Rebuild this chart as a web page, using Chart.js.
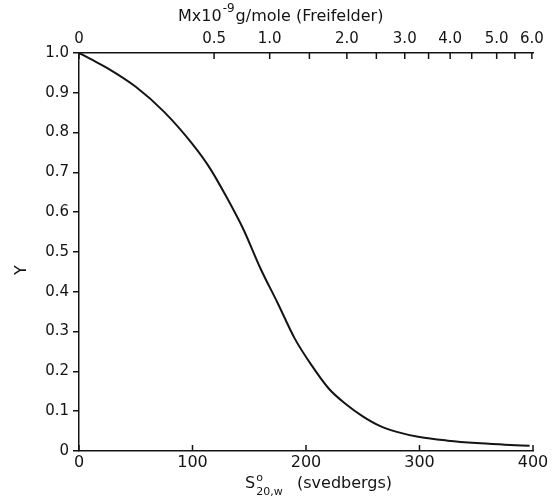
<!DOCTYPE html>
<html>
<head>
<meta charset="utf-8">
<script src="https://cdn.jsdelivr.net/npm/chart.js@4/dist/chart.umd.min.js"></script>
<style>
  html, body { margin: 0; padding: 0; background: #fff; }
</style>
</head>
<body>
<canvas id="chart" width="555" height="498"></canvas>
<script>
// sedimentation coefficient (svedbergs) and fraction Y
const sValues = [0, 10, 25, 50, 75, 100, 115, 130, 145, 160, 175, 190, 205, 220, 235, 250, 265, 280, 300, 325, 350, 375, 397];
const yValues = [1.0, 0.985, 0.962, 0.915, 0.852, 0.771, 0.712, 0.638, 0.556, 0.458, 0.372, 0.283, 0.215, 0.157, 0.118, 0.087, 0.063, 0.048, 0.035, 0.026, 0.020, 0.016, 0.013];

const bottomTicks = [0, 100, 200, 300, 400];
const yTicks = [0, 0.1, 0.2, 0.3, 0.4, 0.5, 0.6, 0.7, 0.8, 0.9, 1.0];
const yTickLabels = ['0', '0.1', '0.2', '0.3', '0.4', '0.5', '0.6', '0.7', '0.8', '0.9', '1.0'];

// top axis: molecular weight (x10^-9) placed at its S value
const topTickPos = [0, 119, 168, 203, 236, 262, 287, 308, 327, 346, 368, 384, 399];
const topTickLabels = ['0', '0.5', '1.0', '', '2.0', '', '3.0', '', '4.0', '', '5.0', '', '6.0'];

const FONT = 'DejaVu Sans';
const INK = '#141414';

const axisDecor = {
    id: 'axisDecor',
    afterDraw(chart) {
        const ctx = chart.ctx;
        const a = chart.chartArea;
        const xs = chart.scales.x;
        const xt = chart.scales.x2;
        ctx.save();
        ctx.strokeStyle = INK;
        ctx.lineWidth = 1.5;
        // inward tick marks on bottom and top axes
        xs.ticks.forEach(t => {
            const px = xs.getPixelForValue(t.value);
            ctx.beginPath(); ctx.moveTo(px, a.bottom); ctx.lineTo(px, a.bottom - 6); ctx.stroke();
        });
        xt.ticks.forEach(t => {
            const px = xt.getPixelForValue(t.value);
            ctx.beginPath(); ctx.moveTo(px, a.top); ctx.lineTo(px, a.top + 6); ctx.stroke();
        });

        ctx.fillStyle = INK;
        ctx.textBaseline = 'alphabetic';
        ctx.textAlign = 'left';

        // top title: Mx10^-9 g/mole (Freifelder)
        let x = 178;
        ctx.font = '16px ' + FONT;
        ctx.fillText('Mx10', x, 21);
        x += ctx.measureText('Mx10').width + 1;
        ctx.font = '12px ' + FONT;
        ctx.fillText('-9', x, 12);
        x += ctx.measureText('-9').width + 1;
        ctx.font = '16px ' + FONT;
        ctx.fillText('g/mole (Freifelder)', x, 21);

        // bottom title: S°20,w (svedbergs)
        x = 245;
        ctx.font = '16px ' + FONT;
        ctx.fillText('S', x, 488);
        x += ctx.measureText('S').width + 1;
        ctx.font = '11px ' + FONT;
        ctx.fillText('o', x, 481);
        ctx.fillText('20,w', x, 495);
        ctx.font = '16px ' + FONT;
        ctx.fillText('(svedbergs)', 297, 488);

        // left title Y, rotated
        ctx.save();
        ctx.translate(22, 270);
        ctx.rotate(-Math.PI / 2);
        ctx.textAlign = 'center';
        ctx.textBaseline = 'middle';
        ctx.font = '16px ' + FONT;
        ctx.fillText('Y', 0, 0);
        ctx.restore();

        ctx.restore();
    }
};

new Chart(document.getElementById('chart').getContext('2d'), {
    type: 'line',
    data: {
        datasets: [{
            data: sValues.map((s, i) => ({ x: s, y: yValues[i] })),
            borderColor: INK,
            borderWidth: 2,
            pointRadius: 0,
            fill: false,
            cubicInterpolationMode: 'monotone'
        }]
    },
    options: {
        responsive: false,
        animation: false,
        devicePixelRatio: 1,
        layout: { padding: { left: 0, right: 22, top: 0, bottom: 0 } },
        plugins: { legend: { display: false }, tooltip: { enabled: false } },
        scales: {
            x: {
                type: 'linear', position: 'bottom', min: 0, max: 400,
                afterBuildTicks: s => { s.ticks = bottomTicks.map(v => ({ value: v })); },
                ticks: { color: INK, font: { family: FONT, size: 16 }, padding: 2, maxRotation: 0, autoSkip: false },
                grid: { display: false, drawTicks: false, tickLength: 0 },
                border: { display: true, color: INK, width: 1.5 },
                afterFit: s => { s.height = 47; }
            },
            x2: {
                type: 'linear', position: 'top', min: 0, max: 400,
                afterBuildTicks: s => { s.ticks = topTickPos.map(v => ({ value: v })); },
                ticks: {
                    color: INK, font: { family: FONT, size: 15 }, padding: 5, maxRotation: 0, autoSkip: false,
                    callback: (v, i) => topTickLabels[i]
                },
                grid: { display: false, drawTicks: false, tickLength: 0 },
                border: { display: true, color: INK, width: 1.5 },
                afterFit: s => { s.height = 53; }
            },
            y: {
                type: 'linear', min: 0, max: 1,
                afterBuildTicks: s => { s.ticks = yTicks.map(v => ({ value: v })); },
                ticks: {
                    color: INK, font: { family: FONT, size: 15 }, padding: 4,
                    callback: (v, i) => yTickLabels[i]
                },
                grid: { display: true, drawOnChartArea: false, drawTicks: true, tickLength: 6, color: INK, lineWidth: 1.5 },
                border: { display: true, color: INK, width: 1.5 },
                afterFit: s => { s.width = 79; }
            }
        }
    },
    plugins: [axisDecor]
});
</script>
</body>
</html>
